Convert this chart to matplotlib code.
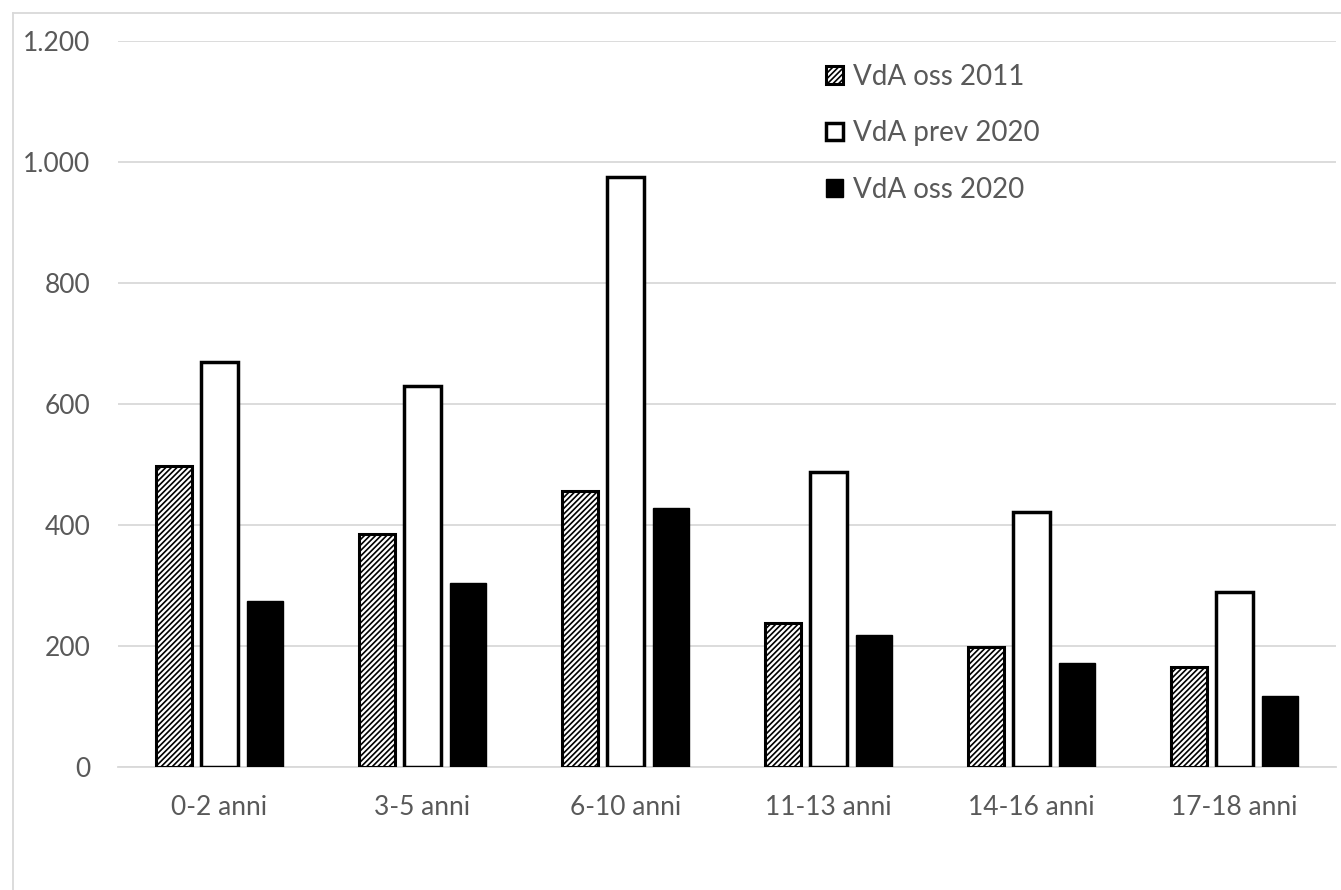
import numpy as np
import matplotlib.pyplot as plt
from matplotlib.lines import Line2D
from matplotlib.ticker import FuncFormatter

plt.rcParams['font.family'] = ['Lato', 'DejaVu Sans']
plt.rcParams['hatch.linewidth'] = 1.2

categories = ['0-2 anni', '3-5 anni', '6-10 anni', '11-13 anni', '14-16 anni', '17-18 anni']
oss_2011 = [498, 385, 456, 238, 198, 165]
prev_2020 = [669, 630, 975, 488, 421, 289]
oss_2020 = [274, 304, 428, 218, 172, 117]

x = np.arange(len(categories))
w = 0.18
step = 0.225

fig = plt.figure(figsize=(13.41, 8.90), dpi=100)
ax = fig.add_axes([118 / 1341, 1 - 767 / 890, (1336 - 118) / 1341, (767 - 41) / 890])

ax.bar(x - step, oss_2011, w, facecolor='white', edgecolor='black', hatch='//////',
       linewidth=2.2, label='VdA oss 2011', zorder=3)
ax.bar(x, prev_2020, w, facecolor='white', edgecolor='black',
       linewidth=2.5, label='VdA prev 2020', zorder=3)
ax.bar(x + step, oss_2020, w, facecolor='black', edgecolor='black',
       linewidth=1, label='VdA oss 2020', zorder=3)

ax.set_xlim(-0.5, len(categories) - 0.5)
ax.set_ylim(0, 1200)
ax.set_yticks(range(0, 1201, 200))
ax.yaxis.set_major_formatter(FuncFormatter(lambda v, p: f'{int(v):,}'.replace(',', '.')))
ax.set_xticks(x)
ax.set_xticklabels(categories)
ax.grid(axis='y', color='#d9d9d9', linewidth=1.3, zorder=0)
for s in ['top', 'right', 'left']:
    ax.spines[s].set_visible(False)
ax.spines['bottom'].set_color('#d9d9d9')
ax.spines['bottom'].set_linewidth(1.3)
ax.tick_params(axis='both', length=0, labelsize=19, colors='#595959')
ax.tick_params(axis='y', pad=20)
ax.tick_params(axis='x', pad=20)

leg = ax.legend(loc='upper left', bbox_to_anchor=(0.561, 1.003), frameon=False,
                fontsize=20, labelcolor='#595959', handlelength=0.6, handleheight=0.6,
                handletextpad=0.35, labelspacing=1.1)

fig.add_artist(Line2D([13 / 1341, 13 / 1341], [0, 1 - 13 / 890], color='#d9d9d9', lw=1.3))
fig.add_artist(Line2D([13 / 1341, 1], [1 - 13 / 890, 1 - 13 / 890], color='#d9d9d9', lw=1.3))

fig.savefig('out.png', dpi=100)
